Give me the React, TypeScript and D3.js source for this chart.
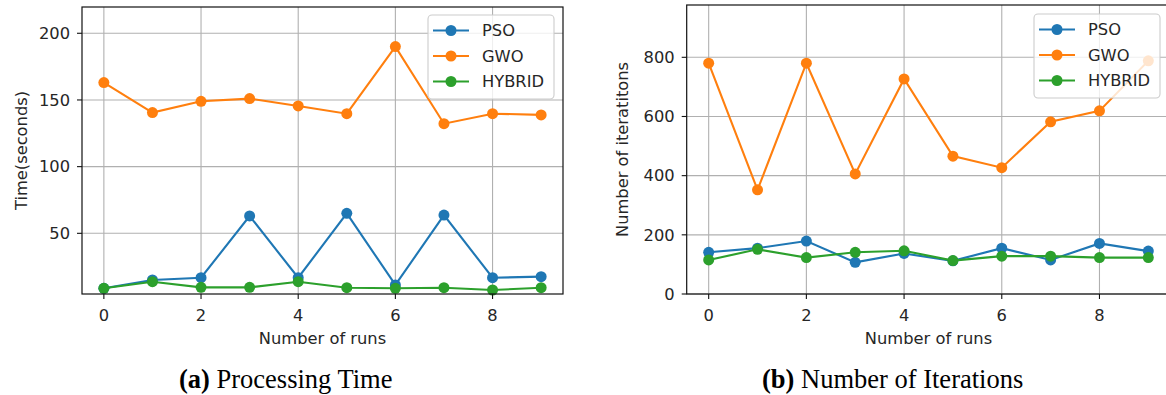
import React from "react";
import * as d3 from "d3";

const runs = [0, 1, 2, 3, 4, 5, 6, 7, 8, 9];
const seriesNames = ["PSO", "GWO", "HYBRID"];
const seriesColors = ["#1f77b4", "#ff7f0e", "#2ca02c"];

// (a) Processing time (seconds)
const timePSO = [8.8, 15, 16.7, 63, 16.7, 65, 11.3, 63.7, 16.7, 17.5];
const timeGWO = [163, 140.5, 149, 151, 145.5, 139.7, 190, 132.2, 139.7, 138.8];
const timeHYBRID = [8.8, 13.7, 9.5, 9.5, 13.7, 9.2, 8.8, 9.2, 7.5, 9.2];
const timeTicks = [50, 100, 150, 200];

// (b) Number of iterations
const iterPSO = [141, 155, 179, 107, 137, 112, 155, 115, 171, 145];
const iterGWO = [780, 352, 780, 406, 727, 466, 427, 582, 619, 788];
const iterHYBRID = [115, 151, 123, 141, 146, 113, 128, 128, 123, 123];
const iterTicks = [0, 200, 400, 600, 800];

const xTicks = [0, 2, 4, 6, 8];

const FONT = "DejaVu Sans, sans-serif";
const TEXT = "#262626";

type PanelProps = {
  left: number;
  top: number;
  right: number;
  bottom: number;
  yDomain: [number, number];
  yTicks: number[];
  series: number[][];
  yLabel: string;
  yLabelX: number;
  legendX: number;
  legendY: number;
  xLabel: string;
};

function Panel(p: PanelProps) {
  const x = d3.scaleLinear().domain([-0.45, 9.45]).range([p.left, p.right]);
  const y = d3.scaleLinear().domain(p.yDomain).range([p.bottom, p.top]);
  const line = d3
    .line<number>()
    .x((_, i) => x(runs[i]))
    .y((d) => y(d));
  const fs = 16.3;
  const lw = 126;
  const lh = 84;
  const mr = 5.5;
  return (
    <g>
      {xTicks.map((t) => (
        <line key={"gx" + t} x1={x(t)} x2={x(t)} y1={p.top} y2={p.bottom} stroke="#b0b0b0" strokeWidth={1.1} />
      ))}
      {p.yTicks.map((t) => (
        <line key={"gy" + t} x1={p.left} x2={p.right} y1={y(t)} y2={y(t)} stroke="#b0b0b0" strokeWidth={1.1} />
      ))}
      {p.series.map((s, si) => (
        <g key={"s" + si}>
          <path d={line(s) || ""} fill="none" stroke={seriesColors[si]} strokeWidth={2.1} />
          {s.map((v, i) => (
            <circle key={i} cx={x(runs[i])} cy={y(v)} r={mr} fill={seriesColors[si]} />
          ))}
        </g>
      ))}
      <rect x={p.left} y={p.top} width={p.right - p.left} height={p.bottom - p.top} fill="none" stroke="#111" strokeWidth={1.2} />
      {xTicks.map((t) => (
        <g key={"xt" + t}>
          <line x1={x(t)} x2={x(t)} y1={p.bottom} y2={p.bottom + 5} stroke="#111" strokeWidth={1.1} />
          <text x={x(t)} y={p.bottom + 27} textAnchor="middle" fontFamily={FONT} fontSize={fs} fill={TEXT}>
            {t}
          </text>
        </g>
      ))}
      {p.yTicks.map((t) => (
        <g key={"yt" + t}>
          <line x1={p.left - 5} x2={p.left} y1={y(t)} y2={y(t)} stroke="#111" strokeWidth={1.1} />
          <text x={p.left - 12} y={y(t)} dy="0.35em" textAnchor="end" fontFamily={FONT} fontSize={fs} fill={TEXT}>
            {t}
          </text>
        </g>
      ))}
      <text x={(p.left + p.right) / 2} y={344} textAnchor="middle" fontFamily={FONT} fontSize={fs} fill={TEXT}>
        {p.xLabel}
      </text>
      <text
        transform={`translate(${p.yLabelX},${(p.top + p.bottom) / 2}) rotate(-90)`}
        textAnchor="middle"
        dy="0.35em"
        fontFamily={FONT}
        fontSize={fs}
        fill={TEXT}
      >
        {p.yLabel}
      </text>
      <rect x={p.legendX} y={p.legendY} width={lw} height={lh} rx={4} fill="white" fillOpacity={0.8} stroke="#cccccc" strokeWidth={1.1} />
      {seriesNames.map((n, i) => {
        const cy = p.legendY + 15.5 + i * 25.5;
        return (
          <g key={n}>
            <line x1={p.legendX + 5} x2={p.legendX + 41} y1={cy} y2={cy} stroke={seriesColors[i]} strokeWidth={2.1} />
            <circle cx={p.legendX + 23} cy={cy} r={mr} fill={seriesColors[i]} />
            <text x={p.legendX + 54} y={cy} dy="0.35em" fontFamily={FONT} fontSize={fs} fill={TEXT}>
              {n}
            </text>
          </g>
        );
      })}
    </g>
  );
}

export default function App() {
  return (
    <svg width={1166} height={395} style={{ position: "absolute", left: 0, top: 0, background: "white" }}>
      <rect x={0} y={0} width={1166} height={395} fill="white" />
      <Panel
        left={82}
        top={7}
        right={563}
        bottom={294}
        yDomain={[4.5, 219.7]}
        yTicks={timeTicks}
        series={[timePSO, timeGWO, timeHYBRID]}
        yLabel="Time(seconds)"
        yLabelX={21}
        legendX={428}
        legendY={15}
        xLabel="Number of runs"
      />
      <Panel
        left={686.7}
        top={5}
        right={1170.3}
        bottom={294}
        yDomain={[0, 976.8]}
        yTicks={iterTicks}
        series={[iterPSO, iterGWO, iterHYBRID]}
        yLabel="Number of iteratitons"
        yLabelX={622}
        legendX={1034}
        legendY={14}
        xLabel="Number of runs"
      />
      <text x={179} y={388} fontFamily="Liberation Serif, Times New Roman, serif" fontSize={26.5} fill="#000">
        <tspan fontWeight="bold">(a)</tspan> Processing Time
      </text>
      <text x={762} y={388} fontFamily="Liberation Serif, Times New Roman, serif" fontSize={26.5} fill="#000">
        <tspan fontWeight="bold">(b)</tspan> Number of Iterations
      </text>
    </svg>
  );
}
